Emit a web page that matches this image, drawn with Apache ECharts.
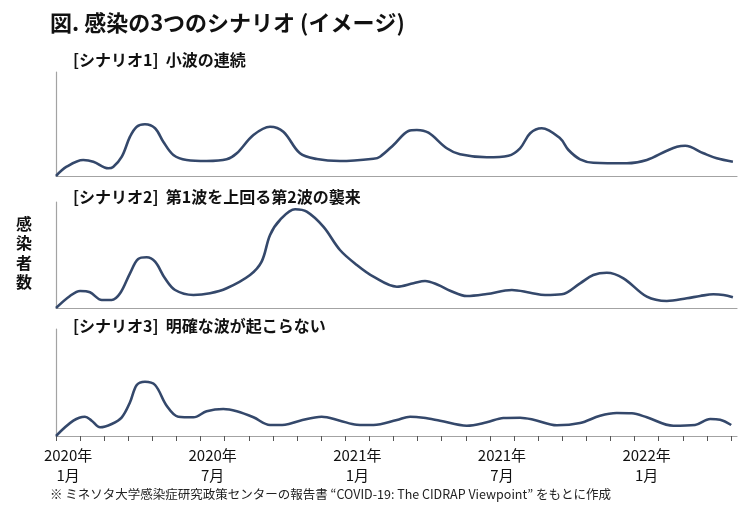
<!DOCTYPE html>
<html>
<head>
<meta charset="utf-8">
<script src="https://cdn.jsdelivr.net/npm/echarts@6/dist/echarts.min.js"></script>
<style>
html,body{margin:0;padding:0;background:#fff;}
#chart{width:750px;height:506px;}
</style>
</head>
<body>
<div id="chart"></div>
<script>
// ---- data (x = months since 2020-01, y = relative number of infections) ----
const titleText = '図. 感染の3つのシナリオ (イメージ)';
const scenarioTitles = ['[シナリオ1]  小波の連続', '[シナリオ2]  第1波を上回る第2波の襲来', '[シナリオ3]  明確な波が起こらない'];
const yAxisName = '感染者数';
const footnote = '※ ミネソタ大学感染症研究政策センターの報告書 “COVID-19: The CIDRAP Viewpoint” をもとに作成';

const tickLabelMonth = [0, 6, 12, 18, 24];
const tickLabels = ['2020年\n1月', '2020年\n7月', '2021年\n1月', '2021年\n7月', '2022年\n1月'];
const monthTicks = [0,1,2,3,4,5,6,7,8,9,10,11,12,13,14,15,16,17,18,19,20,21,22,23,24,25,26,27,28];

const s1Month = [0,0.44,1.13,1.55,2.17,2.37,2.73,3.07,3.35,3.69,4.11,4.45,4.87,5.42,6.25,7.08,7.5,8.19,8.88,9.43,10.12,10.82,11.78,13.17,13.44,14.0,14.62,14.97,15.45,16.21,16.76,17.87,18.77,19.25,19.67,20.15,20.91,21.26,21.74,22.29,23.68,24.51,25.34,25.76,26.1,26.86,27.41,28.08];
const s1Value = [0,9.3,16,14.3,7.7,9,19.3,39.3,49.3,51.7,47.7,34.3,21,16,15,16.7,22.7,41,49.3,44.3,22.7,17,15,17.3,19.3,31,45,46,43.3,27.7,21.7,18.7,20.3,27.7,42.7,47.7,37.7,26,16.7,13.3,12.7,16,25.3,29.3,30.3,22.7,17.7,14.3];

const s2Month = [0,0.58,1.0,1.41,1.9,2.31,2.66,3.07,3.41,3.76,4.11,4.52,4.94,5.7,6.39,7.08,8.05,8.53,8.88,9.29,9.92,10.4,11.09,11.78,12.48,13.17,14.14,14.83,15.31,15.86,16.35,17.04,17.87,18.91,19.67,20.29,20.98,21.74,22.29,22.85,23.54,24.51,25.34,26.17,26.72,27.27,27.69,28.08];
const s2Value = [0,12,17,15.7,8,8,14.7,34.7,49,50.7,46.3,29.7,18,13,14.7,19.7,33,46.3,73,88,98.7,96.3,81.3,58,43,31.3,21.3,24.7,27,23,17.3,12,14,18,15.3,13,13.7,24.7,33,35.3,29.7,11.3,7,9.7,12,13.7,13,10.7];

const s3Month = [0,0.72,1.2,1.48,1.83,2.31,2.73,3.07,3.35,3.69,4.11,4.59,5.07,5.7,6.25,6.94,7.5,8.19,8.88,9.5,10.12,11.02,11.78,12.48,13.17,14.14,14.69,15.24,15.93,17.04,17.87,18.56,19.25,19.81,20.78,21.74,22.57,23.26,23.89,24.51,25.61,26.51,27.14,27.55,28.01];
const s3Value = [0,15.3,19.3,15.3,8.7,12,18.7,33.7,51,54.3,51,30.3,19.3,18.7,24.7,27,24.7,18.7,11,11.3,15.3,19.3,15.3,11.3,11,16,19.3,18.3,15.3,10.3,13.7,18,18.3,16.3,10.7,13,20.3,23,22.7,18.7,10.3,11,17,16.3,11];

// ---- chart ----
const lineColor = '#34486b';
const axisColor = '#a3a3a3';
const grids = [
  {left: 56, right: 13, top: 72, height: 104},
  {left: 56, right: 13, top: 202, height: 106},
  {left: 56, right: 13, top: 329, height: 107}
];
const yMax = [104, 106, 107];
const series = [[s1Month, s1Value], [s2Month, s2Value], [s3Month, s3Value]];

const xAxes = grids.map((g, i) => {
  const base = {
    type: 'value', gridIndex: i, min: 0, max: 28.25,
    axisLine: {show: true, lineStyle: {color: axisColor, width: 1.2}},
    splitLine: {show: false},
    axisTick: {show: false},
    axisLabel: {show: false}
  };
  if (i === 2) {
    base.axisTick = {show: true, customValues: monthTicks, length: 5, lineStyle: {color: '#555', width: 1}};
    base.axisLabel = {
      show: true,
      customValues: tickLabelMonth.map(m => m + 0.5),
      formatter: v => tickLabels[tickLabelMonth.indexOf(Math.round(v - 0.5))] || '',
      fontSize: 15, color: '#111', lineHeight: 20, margin: 9,
      fontFamily: 'Noto Sans CJK JP'
    };
  }
  return base;
});

const yAxes = grids.map((g, i) => ({
  type: 'value', gridIndex: i, min: 0, max: yMax[i],
  axisLine: {show: true, lineStyle: {color: axisColor, width: 1.2}},
  axisTick: {show: false}, axisLabel: {show: false}, splitLine: {show: false}
}));

const seriesList = series.map((s, i) => ({
  type: 'line', xAxisIndex: i, yAxisIndex: i,
  data: s[0].map((m, k) => [m, s[1][k]]),
  smooth: 0.35, symbol: 'none', clip: false,
  lineStyle: {color: lineColor, width: 2.6},
  animation: false
}));

const subTitleY = [62, 199, 328];
const graphics = [
  {type: 'text', left: 50, top: 12, style: {text: titleText, font: 'bold 22px "Noto Sans CJK JP"', fill: '#111'}},
  {type: 'text', left: 16, top: 214, style: {text: yAxisName.split('').join('\n'), font: 'bold 16px "Noto Sans CJK JP"', fill: '#111', lineHeight: 19.5, align: 'center'}},
  {type: 'text', left: 50, top: 488, style: {text: footnote, font: '12.5px "Noto Sans CJK JP"', fill: '#222'}}
];
scenarioTitles.forEach((t, i) => {
  graphics.push({type: 'text', left: 73, top: subTitleY[i] - 10, style: {text: t, font: 'bold 16px "Noto Sans CJK JP"', fill: '#111'}});
});

const chart = echarts.init(document.getElementById('chart'), null, {renderer: 'canvas'});
chart.setOption({
  animation: false,
  backgroundColor: '#fff',
  grid: grids,
  xAxis: xAxes,
  yAxis: yAxes,
  series: seriesList,
  graphic: graphics
});
</script>
</body>
</html>
